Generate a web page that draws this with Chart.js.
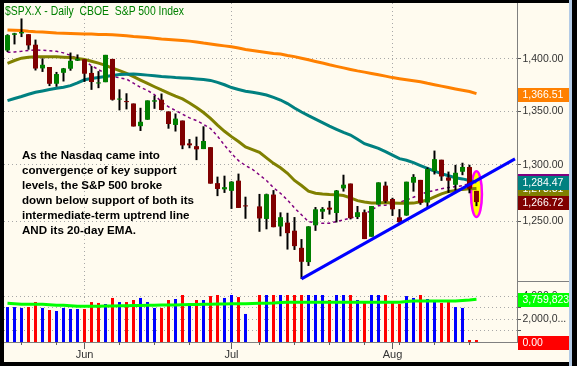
<!DOCTYPE html>
<html>
<head>
<meta charset="utf-8">
<title>$SPX.X - Daily CBOE S&amp;P 500 Index</title>
<script src="https://cdn.jsdelivr.net/npm/chart.js@4.4.1/dist/chart.umd.min.js"></script>
<style>
  html, body { margin:0; padding:0; background:#000; width:577px; height:366px; overflow:hidden; }
  #frame { position:absolute; left:4px; top:3px; width:565px; height:359px; background:#FFFBEF; }
  #edge { position:absolute; left:569px; top:0; width:3px; height:366px; background:#B4CBE6; }
  canvas { position:absolute; }
  #pc { left:4px; top:3px; }
  #vc { left:4px; top:281px; }
  #sep { position:absolute; left:517px; top:281px; width:52px; height:1px; background:#808080; }
  .txt { position:absolute; white-space:pre; transform-origin:0 0; font-family:'Liberation Sans', Arial, sans-serif; }
  #title { left:5px; top:5px; font-size:12.5px; line-height:13px; color:#008000; }
  #note { left:21.5px; top:148px; font-size:11.5px; line-height:15px; font-weight:bold; color:#000; }
</style>
</head>
<body>
<div id="frame"></div>
<div id="edge"></div>
<canvas id="pc" width="565" height="278" style="width:565px;height:278px"></canvas>
<canvas id="vc" width="565" height="81" style="width:565px;height:81px"></canvas>
<div id="sep"></div>
<div id="title" class="txt">$SPX.X - Daily  CBOE  S&amp;P 500 Index</div>
<div id="note" class="txt">As the Nasdaq came into<br>convergence of key support<br>levels, the S&amp;P 500 broke<br>down below support of both its<br>intermediate-term uptrend line<br>AND its 20-day EMA.</div>
<script>
// ---------------- DATA ----------------
const dates = [
'2008-05-15','2008-05-16','2008-05-19','2008-05-20','2008-05-21','2008-05-22','2008-05-23',
'2008-05-27','2008-05-28','2008-05-29','2008-05-30',
'2008-06-02','2008-06-03','2008-06-04','2008-06-05','2008-06-06',
'2008-06-09','2008-06-10','2008-06-11','2008-06-12','2008-06-13',
'2008-06-16','2008-06-17','2008-06-18','2008-06-19','2008-06-20',
'2008-06-23','2008-06-24','2008-06-25','2008-06-26','2008-06-27',
'2008-06-30','2008-07-01','2008-07-02','2008-07-03','2008-07-04',
'2008-07-07','2008-07-08','2008-07-09','2008-07-10','2008-07-11',
'2008-07-14','2008-07-15','2008-07-16','2008-07-17','2008-07-18',
'2008-07-21','2008-07-22','2008-07-23','2008-07-24','2008-07-25',
'2008-07-28','2008-07-29','2008-07-30','2008-07-31','2008-08-01',
'2008-08-04','2008-08-05','2008-08-06','2008-08-07','2008-08-08',
'2008-08-11','2008-08-12','2008-08-13','2008-08-14','2008-08-15',
'2008-08-18','2008-08-19'];

const open = [
1408.36,1423.89,1425.28,1424.49,1414.06,1390.83,1392.20,
1375.97,1386.54,1390.50,1398.36,
1399.62,1386.42,1376.26,1377.48,1400.06,
1360.83,1358.98,1357.09,1335.78,1341.81,
1358.85,1360.71,1349.59,1336.89,1341.02,
1319.77,1317.23,1314.54,1316.29,1283.60,
1278.06,1276.69,1285.82,1262.96,null,
1262.90,1251.84,1273.38,1245.25,1248.66,
1241.61,1226.83,1214.65,1246.31,1258.22,
1261.82,1257.08,1278.87,1283.22,1253.51,
1257.76,1236.38,1264.52,1281.37,1269.42,
1253.27,1254.87,1283.99,1286.51,1266.29,
1294.42,1304.79,1288.64,1282.11,1293.85,
1298.14,1276.65];
const high = [
1424.40,1425.82,1440.24,1424.49,1419.12,1400.68,1392.20,
1387.40,1391.25,1406.32,1404.46,
1399.62,1393.12,1388.18,1404.05,1400.06,
1370.63,1366.84,1357.09,1353.03,1360.03,
1364.70,1366.59,1349.59,1347.66,1341.02,
1323.78,1326.02,1335.63,1316.29,1289.45,
1290.31,1285.31,1292.17,1271.48,null,
1273.95,1274.17,1277.36,1257.65,1257.27,
1253.50,1234.35,1245.52,1262.31,1262.23,
1267.74,1277.42,1291.17,1283.22,1263.23,
1260.09,1263.20,1284.33,1284.93,1270.52,
1260.49,1284.88,1291.67,1286.51,1297.85,
1313.15,1304.79,1294.03,1300.11,1302.05,
1300.22,1276.65];
const low = [
1406.87,1414.35,1421.63,1409.09,1388.81,1387.40,1373.72,
1373.07,1378.16,1388.59,1398.08,
1377.79,1370.12,1371.74,1377.48,1359.90,
1350.62,1351.56,1335.47,1331.29,1341.71,
1352.07,1350.54,1333.40,1330.78,1314.46,
1315.31,1304.42,1314.54,1283.15,1272.00,
1274.86,1260.68,1261.51,1252.01,null,
1240.68,1242.84,1244.57,1236.76,1225.35,
1225.01,1200.44,1211.39,1241.49,1251.81,
1255.70,1248.83,1276.06,1251.48,1251.75,
1234.37,1236.38,1264.52,1265.97,1254.54,
1247.45,1254.67,1276.00,1264.29,1262.11,
1291.41,1285.64,1274.86,1276.84,1290.74,
1274.51,1263.11];
const close = [
1423.57,1425.35,1426.63,1413.40,1390.71,1394.35,1375.93,
1385.35,1390.84,1398.26,1400.38,
1385.67,1377.65,1377.20,1404.05,1360.68,
1361.76,1358.44,1335.49,1339.87,1360.03,
1360.14,1350.93,1337.81,1342.83,1317.93,
1318.00,1314.29,1321.97,1283.15,1278.38,
1280.00,1284.91,1261.52,1262.90,null,
1252.31,1273.70,1244.69,1253.39,1239.49,
1228.30,1214.91,1245.36,1260.32,1260.68,
1260.00,1277.00,1282.19,1252.54,1257.76,
1234.37,1263.20,1284.26,1267.38,1260.31,
1249.01,1284.88,1289.19,1266.07,1296.32,
1305.32,1289.59,1285.83,1292.93,1298.20,
1278.60,1266.72];

const volume = [
3080000,3080000,3000000,3080000,3520000,3000000,2820000,
2730000,3000000,2910000,2910000,
2910000,3520000,3440000,3350000,3880000,
3520000,3520000,3700000,3880000,3520000,
3000000,3000000,3700000,3790000,4140000,
3260000,3700000,3700000,4050000,4140000,
3880000,4140000,3960000,2470000,null,
4140000,4140000,4140000,4140000,4140000,
4140000,4140000,4140000,4140000,4140000,
3700000,4140000,4140000,4140000,3700000,
3520000,4140000,4140000,4140000,3520000,
3350000,4050000,3880000,4140000,3790000,
3700000,3440000,3520000,3080000,3000000,
0,0];

const ma200 = [
1428.7,1428.5,1428.2,1427.5,1427.0,1426.7,1426.2,1425.7,1425.5,1425.2,1425.0,
1424.8,1424.6,1424.3,1424.1,1423.9,1423.5,1422.9,1422.2,1421.7,1421.1,
1420.4,1419.7,1419.2,1418.8,1418.3,1417.6,1416.8,1415.7,1414.8,1413.8,
1412.9,1412.0,1410.8,1409.3,1408.3,1407.4,1406.4,1405.5,1404.9,1403.5,
1402.3,1400.8,1399.2,1397.6,1396.0,1394.3,1392.8,1391.3,1389.8,1388.4,
1387.2,1385.9,1384.7,1383.3,1381.9,1380.8,1379.8,1378.9,1377.9,1376.4,
1375.1,1373.7,1372.4,1371.0,1369.7,1368.5,1366.51];
const ma50 = [
1359.8,1361.9,1363.8,1365.9,1367.8,1369.1,1370.4,1371.6,1372.6,1374.2,1376.8,
1379.8,1381.0,1382.0,1383.0,1384.0,1384.8,1385.2,1385.4,1385.0,1384.3,
1383.7,1383.0,1382.6,1382.0,1381.6,1381.3,1380.6,1380.0,1379.2,1377.3,
1375.0,1372.3,1370.5,1368.8,1367.8,1366.6,1365.2,1362.9,1360.4,1357.0,
1352.8,1349.1,1345.6,1342.3,1339.0,1335.8,1332.8,1329.9,1327.5,1323.6,
1319.5,1317.4,1315.2,1312.2,1309.0,1305.8,1304.3,1302.1,1299.5,1297.0,
1294.5,1292.2,1290.2,1288.4,1287.4,1286.0,1284.47];
const ema20 = [
1395.8,1398.5,1400.8,1401.8,1402.3,1402.3,1402.3,1402.1,1401.8,1401.4,1400.4,
1399.6,1397.8,1396.0,1393.8,1391.0,1388.6,1385.9,1382.8,1379.5,1376.3,
1373.1,1370.0,1367.1,1364.2,1361.5,1357.6,1353.3,1348.6,1343.0,1336.7,
1331.0,1326.0,1321.5,1316.6,1314.0,1311.5,1306.5,1301.5,1297.5,1292.5,
1286.0,1281.5,1276.5,1274.6,1273.8,1273.4,1273.2,1272.5,1270.5,1268.0,
1266.8,1265.9,1266.0,1266.4,1266.0,1265.7,1265.6,1265.8,1267.0,1268.5,
1271.3,1274.0,1276.0,1277.0,1278.0,1278.5,1278.81];
const sma10 = [
1406.6,1406.8,1407.5,1408.4,1408.8,1408.6,1408.1,1407.5,1406.0,1403.5,1400.5,
1398.0,1393.5,1389.6,1385.9,1383.0,1381.7,1380.5,1376.5,1372.5,1369.5,
1365.5,1358.5,1354.0,1350.5,1347.0,1343.5,1341.0,1337.5,1333.5,1326.5,
1318.0,1310.5,1304.0,1299.5,1296.0,1291.0,1286.0,1279.5,1274.5,1268.5,
1261.5,1255.5,1249.5,1248.5,1248.0,1248.2,1249.5,1251.0,1252.6,1254.2,
1256.0,1259.5,1263.5,1264.0,1264.5,1266.5,1268.5,1271.0,1273.5,1275.8,
1277.0,1278.6,1279.6,1280.5,1281.3,1283.3,1286.0];
const volAvg = [
3410000,3380000,3320000,3320000,3320000,3320000,3280000,3230000,3230000,3200000,3150000,
3150000,3150000,3160000,3170000,3180000,3190000,3200000,3210000,3220000,3230000,
3240000,3250000,3260000,3270000,3280000,3300000,3310000,3320000,3330000,3340000,
3350000,3360000,3370000,3380000,3390000,3410000,3420000,3440000,3480000,3500000,
3500000,3500000,3500000,3500000,3500000,3500000,3500000,3500000,3500000,3500000,
3500000,3500000,3500000,3500000,3500000,3500000,3560000,3610000,3610000,3610000,
3610000,3610000,3610000,3610000,3660000,3700000,3759823];

// uptrend line: from the July 15 low, extended into the right margin (slot positions)
const trendSlots  = [42, 72.5];
const trendValues = [1200.44, 1305.6];
// highlighted last bar (ellipse) in price units
const highlight = { slot: 67, hi: 1294.4, lo: 1253.6, halfW: 0.78 };

const priceTicks = [1250, 1300, 1350, 1400];
const volTicks = [1000000, 2000000, 3000000, 4000000];
const volLabeled = [2000000, 4000000];
const monthTicks = ['2008-06-02', '2008-07-01', '2008-08-01'];
const monthLabels = ['Jun', 'Jul', 'Aug'];
const weekTicks = ['2008-05-19','2008-05-27','2008-06-09','2008-06-16','2008-06-23','2008-07-07',
                   '2008-07-14','2008-07-21','2008-07-28','2008-08-04','2008-08-11','2008-08-18'];

// ---------------- CHARTS ----------------
Chart.defaults.font.family = "'Liberation Sans', Arial, sans-serif";
Chart.defaults.animation = false;

const slotOf = d => dates.indexOf(d);
const monthIdx = monthTicks.map(slotOf);
const weekIdx = weekTicks.map(slotOf);
const xMin = -0.5, xMax = 72.79;
const valid = dates.map((d, i) => i).filter(i => open[i] !== null);
const pts = arr => arr.map((v, i) => ({ x: i, y: v }));
const last = arr => arr[arr.length - 1];
const fmt2 = v => v.toLocaleString('en-US', { minimumFractionDigits: 2, maximumFractionDigits: 2 });
const fmtVol = v => v === 0 ? '0.00' : Math.round(v).toLocaleString('en-US');
const truncLabel = v => { const s = Math.round(v).toLocaleString('en-US'); return s.length > 7 ? s.slice(0, 7) + '...' : s; };

const boxLabels = {
  id: 'boxLabels',
  afterDraw(chart, args, opts) {
    const { ctx, chartArea } = chart;
    const ys = chart.scales[opts.scaleId];
    ctx.save();
    ctx.font = "10.5px 'Liberation Sans', Arial, sans-serif";
    ctx.textBaseline = 'middle';
    ctx.textAlign = 'left';
    opts.items.forEach(it => {
      const y = Math.round(ys.getPixelForValue(it.value)) + 1;
      ctx.fillStyle = it.bg;
      ctx.fillRect(chartArea.right + 1, y - 7, 51, 14);
      ctx.fillStyle = '#FFFFFF';
      ctx.fillText(it.text, chartArea.right + 5.5, y + 0.5);
    });
    ctx.restore();
  }
};

const ellipsePlugin = {
  id: 'ellipseMark',
  beforeDatasetsDraw(chart, args, o) {
    const { ctx } = chart;
    const xs = chart.scales.x, ys = chart.scales.y;
    const cx = xs.getPixelForValue(o.slot);
    const rx = xs.getPixelForValue(o.slot + o.halfW) - cx;
    const y1 = ys.getPixelForValue(o.hi), y2 = ys.getPixelForValue(o.lo);
    ctx.save();
    ctx.beginPath();
    ctx.ellipse(cx, (y1 + y2) / 2, rx, (y2 - y1) / 2, 0, 0, Math.PI * 2);
    ctx.fillStyle = '#FFFF00';
    ctx.fill();
    ctx.lineWidth = 2.5;
    ctx.strokeStyle = '#FF00FF';
    ctx.stroke();
    ctx.restore();
  }
};

const weekTickPlugin = {
  id: 'weekTicks',
  afterDraw(chart, args, o) {
    const { ctx, chartArea } = chart;
    const xs = chart.scales.x;
    ctx.save();
    ctx.strokeStyle = '#606060';
    ctx.lineWidth = 1;
    ctx.beginPath();
    o.idx.forEach(i => {
      const x = Math.round(xs.getPixelForValue(i) - 0.5) + 0.5;
      ctx.moveTo(x, chartArea.bottom);
      ctx.lineTo(x, chartArea.bottom + 3);
    });
    ctx.stroke();
    ctx.restore();
  }
};

const lineDs = (label, arr, color, width, extra) => Object.assign({
  type: 'line', label, data: pts(arr), borderColor: color, borderWidth: width,
  pointRadius: 0, tension: 0, fill: false, order: 5
}, extra || {});

new Chart(document.getElementById('pc'), {
  type: 'bar',
  data: {
    datasets: [
      lineDs('200-day MA', ma200, '#FF8000', 3),
      lineDs('50-day MA', ma50, '#008080', 3),
      lineDs('20-day EMA', ema20, '#808000', 3),
      lineDs('10-day MA', sma10, '#800080', 1.5, { borderDash: [3, 3] }),
      {
        type: 'bar', label: 'Range',
        data: valid.map(i => ({ x: i, y: [low[i], high[i]] })),
        backgroundColor: '#000000', barThickness: 2, grouped: false, inflateAmount: 0, borderWidth: 0, order: 3
      },
      {
        type: 'bar', label: 'Body',
        data: valid.map(i => ({ x: i, y: [Math.min(open[i], close[i]), Math.max(open[i], close[i])] })),
        backgroundColor: valid.map(i => close[i] >= open[i] ? '#008000' : '#800000'),
        barThickness: 5, minBarLength: 1, grouped: false, inflateAmount: 0, borderWidth: 0, order: 2
      },
      {
        type: 'line', label: 'Uptrend',
        data: trendSlots.map((s, k) => ({ x: s, y: trendValues[k] })),
        borderColor: '#0000FF', borderWidth: 3, pointRadius: 0, order: 1
      }
    ]
  },
  options: {
    responsive: false, devicePixelRatio: 1, animation: false,
    layout: { padding: 0 },
    plugins: {
      legend: { display: false }, tooltip: { enabled: false },
      ellipseMark: highlight,
      boxLabels: {
        scaleId: 'y',
        items: [
          { value: last(ma200), text: fmt2(last(ma200)), bg: '#FF8000' },
          { value: last(sma10), text: fmt2(last(sma10)), bg: '#800080' },
          { value: last(ema20), text: fmt2(last(ema20)), bg: '#808000' },
          { value: last(ma50), text: fmt2(last(ma50)), bg: '#008080' },
          { value: last(close), text: fmt2(last(close)), bg: '#800000' }
        ]
      }
    },
    scales: {
      x: {
        type: 'linear', min: xMin, max: xMax, offset: false, bounds: 'data',
        afterBuildTicks: s => { s.ticks = monthIdx.map(v => ({ value: v })); },
        ticks: { display: false },
        grid: { color: '#A8A8A8', drawTicks: false, offset: false },
        border: { display: false, dash: [1, 3] },
        afterFit: s => { s.height = 0; s.paddingLeft = 0; s.paddingRight = 0; }
      },
      y: {
        type: 'logarithmic', position: 'right', min: 1198.7, max: 1455.9, bounds: 'data',
        afterBuildTicks: s => { s.ticks = priceTicks.map(v => ({ value: v })); },
        ticks: { callback: v => fmt2(v), color: '#333333', font: { size: 10.5 }, padding: 1.5, autoSkip: false },
        grid: { color: '#A8A8A8', tickLength: 4, tickColor: '#555555', tickBorderDash: [] },
        border: { display: true, color: '#808080', width: 1, dash: [1, 3] },
        afterFit: s => { s.width = 52; s.paddingTop = 0; s.paddingBottom = 0; }
      }
    }
  },
  plugins: [ellipsePlugin, boxLabels]
});

const volIdx = valid;
const volColors = volIdx.map((i, k) => {
  const prev = k === 0 ? open[i] : close[volIdx[k - 1]];
  return close[i] >= prev ? '#0000FF' : '#FF0000';
});

new Chart(document.getElementById('vc'), {
  type: 'bar',
  data: {
    datasets: [
      {
        type: 'line', label: 'Volume average', data: pts(volAvg),
        borderColor: '#00FF00', borderWidth: 3, pointRadius: 0, tension: 0, order: 1
      },
      {
        type: 'bar', label: 'Volume',
        data: volIdx.map(i => ({ x: i, y: volume[i] })),
        backgroundColor: volColors, barThickness: 3, minBarLength: 2,
        grouped: false, inflateAmount: 0, borderWidth: 0, order: 2
      }
    ]
  },
  options: {
    responsive: false, devicePixelRatio: 1, animation: false,
    layout: { padding: 0 },
    plugins: {
      legend: { display: false }, tooltip: { enabled: false },
      weekTicks: { idx: weekIdx },
      boxLabels: {
        scaleId: 'y',
        items: [
          { value: last(volAvg), text: fmtVol(last(volAvg)), bg: '#00FF00' },
          { value: last(volume), text: fmtVol(last(volume)), bg: '#FF0000' }
        ]
      }
    },
    scales: {
      x: {
        type: 'linear', min: xMin, max: xMax, offset: false, bounds: 'data',
        afterBuildTicks: s => { s.ticks = monthIdx.map(v => ({ value: v })); },
        ticks: {
          callback: v => monthLabels[monthIdx.indexOf(v)] || '',
          color: '#333333', font: { size: 11, lineHeight: 1 }, padding: 0,
          autoSkip: false, maxRotation: 0, minRotation: 0
        },
        grid: { color: '#A8A8A8', tickLength: 7, tickColor: '#606060', tickBorderDash: [], offset: false },
        border: { display: true, color: '#808080', width: 1, dash: [1, 3] },
        afterFit: s => { s.height = 20; s.paddingLeft = 0; s.paddingRight = 0; }
      },
      y: {
        type: 'linear', position: 'right', min: 0, max: 5374000, bounds: 'data',
        afterBuildTicks: s => { s.ticks = volTicks.map(v => ({ value: v })); },
        ticks: {
          callback: v => volLabeled.includes(v) ? truncLabel(v) : '',
          color: '#333333', font: { size: 10.5 }, padding: 1.5, autoSkip: false
        },
        grid: { color: '#A8A8A8', tickLength: 4, tickColor: '#555555', tickBorderDash: [] },
        border: { display: true, color: '#808080', width: 1, dash: [1, 3] },
        afterFit: s => { s.width = 52; s.paddingTop = 0; s.paddingBottom = 0; }
      }
    }
  },
  plugins: [boxLabels, weekTickPlugin]
});

// fit the overlay texts to the reference widths
function fitWidth(id, target) {
  const el = document.getElementById(id);
  const w = el.getBoundingClientRect().width;
  if (w > 0) el.style.transform = 'scaleX(' + (target / w) + ')';
}
fitWidth('title', 179);
fitWidth('note', 172);
</script>
</body>
</html>
